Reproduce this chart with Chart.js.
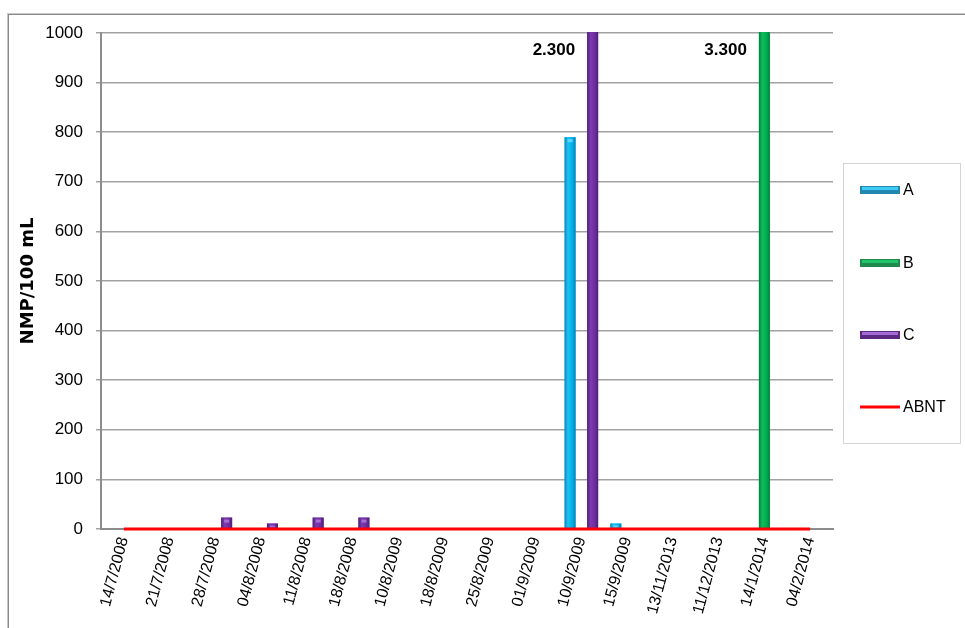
<!DOCTYPE html>
<html>
<head>
<meta charset="utf-8">
<script src="https://cdn.jsdelivr.net/npm/chart.js@4.4.1/dist/chart.umd.min.js"></script>
<style>
  html, body { margin: 0; padding: 0; background: #ffffff; }
  #wrap { position: relative; width: 965px; height: 628px; }
</style>
</head>
<body>
<div id="wrap"><canvas id="c" width="965" height="628"></canvas></div>
<script>
// Sampling dates (category axis)
const categories = ['14/7/2008', '21/7/2008', '28/7/2008', '04/8/2008', '11/8/2008', '18/8/2008',
  '10/8/2009', '18/8/2009', '25/8/2009', '01/9/2009', '10/9/2009', '15/9/2009',
  '13/11/2013', '11/12/2013', '14/1/2014', '04/2/2014'];

// NMP/100 mL per sampling point
const seriesA = [null, null, null, null, null, null, null, null, null, null, 790, 11, null, null, null, null];
const seriesB = [null, null, null, null, null, null, null, null, null, null, null, null, null, null, 3300, null];
const seriesC = [null, null, 23, 11, 23, 23, null, null, null, null, 2300, null, null, null, null, null];
// ABNT reference line
const abnt = [0, 0, 0, 0, 0, 0, 0, 0, 0, 0, 0, 0, 0, 0, 0, 0];

const yMin = 0;
const yMax = 1000;
const yStep = 100;

const palette = {
  A: { base: '#00B0F0', stops: ['#0A86B6', '#22C0F2', '#00AEEA', '#0A84B2'], cap: '#5FD6FA', legTop: '#3FCBF6', legBot: '#2288B0' },
  B: { base: '#00B050', stops: ['#007D39', '#12BC5E', '#00AE4E', '#007E3A'], cap: '#5EDB92', legTop: '#22C46A', legBot: '#1E8A4E' },
  C: { base: '#7030A0', stops: ['#4C2074', '#7C3AB0', '#6E2E9E', '#4D2076'], cap: '#A46ED2', legTop: '#A36BD6', legBot: '#5B2A80' }
};
const keys = ['A', 'B', 'C'];

function fmtThousands(v) {
  return String(Math.round(v)).replace(/\B(?=(\d{3})+(?!\d))/g, '.');
}

// Page frame, background
const framePlugin = {
  id: 'frame',
  beforeDraw(chart) {
    const ctx = chart.ctx;
    ctx.save();
    ctx.fillStyle = '#ffffff';
    ctx.fillRect(0, 0, chart.width, chart.height);
    ctx.fillStyle = '#c8c8c8';
    ctx.fillRect(7, 13, chart.width - 7, 1);
    ctx.fillRect(7, 13, 1, chart.height - 13);
    ctx.fillStyle = '#8a8a8a';
    ctx.fillRect(8, 14, chart.width - 8, 1);
    ctx.fillRect(8, 14, 1, chart.height - 14);
    ctx.restore();
  }
};

// Shaded bar faces
const barShadePlugin = {
  id: 'barShade',
  afterDatasetDraw(chart, args) {
    const meta = args.meta;
    if (meta.type !== 'bar') return;
    const key = keys[meta.index];
    const pal = palette[key];
    const area = chart.chartArea;
    const ctx = chart.ctx;
    ctx.save();
    ctx.beginPath();
    ctx.rect(area.left, area.top - 1, area.right - area.left, area.bottom - area.top + 2);
    ctx.clip();
    meta.data.forEach((el) => {
      const p = el.getProps(['x', 'y', 'base', 'width'], true);
      if (p.y == null || isNaN(p.y) || p.base === p.y) return;
      const l = p.x - p.width / 2, r = p.x + p.width / 2;
      const top = Math.min(p.y, p.base), bot = Math.max(p.y, p.base);
      const g = ctx.createLinearGradient(l, 0, r, 0);
      g.addColorStop(0, pal.stops[0]);
      g.addColorStop(0.3, pal.stops[1]);
      g.addColorStop(0.7, pal.stops[2]);
      g.addColorStop(1, pal.stops[3]);
      ctx.fillStyle = g;
      ctx.fillRect(l, top, r - l, bot - top);
      if (top > area.top + 1) {
        ctx.fillStyle = pal.cap;
        ctx.fillRect(p.x - 2.5, top + 2, 5, Math.min(3, bot - top - 3));
      }
    });
    ctx.restore();
  }
};

// Value labels for bars running past the axis maximum
const overflowLabelPlugin = {
  id: 'overflowLabels',
  afterDatasetsDraw(chart) {
    const ctx = chart.ctx;
    const area = chart.chartArea;
    const yScale = chart.scales.y;
    ctx.save();
    ctx.font = 'bold 17px "Liberation Sans", Arial, sans-serif';
    ctx.fillStyle = '#000000';
    ctx.textAlign = 'right';
    ctx.textBaseline = 'middle';
    chart.data.datasets.forEach((ds, di) => {
      const meta = chart.getDatasetMeta(di);
      if (meta.type !== 'bar') return;
      ds.data.forEach((v, i) => {
        if (v == null || v <= yScale.max) return;
        const p = meta.data[i].getProps(['x', 'width'], true);
        ctx.fillText(fmtThousands(v), p.x - p.width / 2 - 12, area.top + 17);
      });
    });
    ctx.restore();
  }
};

// Boxed legend on the right
const boxLegendPlugin = {
  id: 'boxLegend',
  afterDraw(chart) {
    const ctx = chart.ctx;
    ctx.save();
    ctx.strokeStyle = '#d4d4d4';
    ctx.lineWidth = 1;
    ctx.strokeRect(843.5, 163.5, 117, 280);
    ctx.font = '16px "Liberation Sans", Arial, sans-serif';
    ctx.textBaseline = 'middle';
    ctx.textAlign = 'left';
    const rows = [190, 263, 335, 407];
    chart.data.datasets.forEach((ds, di) => {
      const y = rows[di];
      if (ds.type === 'line') {
        ctx.fillStyle = ds.borderColor;
        ctx.fillRect(860, y - 1.5, 40, 3);
      } else {
        const pal = palette[keys[di]];
        ctx.fillStyle = pal.legBot;
        ctx.fillRect(860, y - 4, 40, 8);
        ctx.fillStyle = pal.legTop;
        ctx.fillRect(862, y - 3, 36, 3);
      }
      ctx.fillStyle = '#000000';
      ctx.fillText(ds.label, 903, y + 1);
    });
    ctx.restore();
  }
};

const barCommon = { categoryPercentage: 0.74, barPercentage: 0.97, borderWidth: 0, order: 1 };

new Chart(document.getElementById('c'), {
  data: {
    labels: categories,
    datasets: [
      Object.assign({ type: 'bar', label: 'A', data: seriesA, backgroundColor: palette.A.base }, barCommon),
      Object.assign({ type: 'bar', label: 'B', data: seriesB, backgroundColor: palette.B.base }, barCommon),
      Object.assign({ type: 'bar', label: 'C', data: seriesC, backgroundColor: palette.C.base }, barCommon),
      { type: 'line', label: 'ABNT', data: abnt, borderColor: '#FF0000', borderWidth: 3,
        pointRadius: 0, fill: false, order: 0, clip: false }
    ]
  },
  options: {
    responsive: false,
    animation: false,
    layout: { padding: { left: 0, right: 132, top: 33, bottom: 0 } },
    plugins: {
      legend: { display: false },
      tooltip: { enabled: false }
    },
    scales: {
      x: {
        type: 'category',
        offset: true,
        grid: { display: true, drawOnChartArea: false, drawTicks: false },
        border: { display: true, color: '#8c8c8c', width: 2 },
        ticks: {
          autoSkip: false, minRotation: 75, maxRotation: 75, padding: 6,
          color: '#000000', font: { family: '"Liberation Sans", Arial, sans-serif', size: 16 }
        },
        afterFit(s) { s.height = 99; }
      },
      y: {
        min: yMin, max: yMax,
        grid: { color: '#a2a2a2', lineWidth: 1.5, tickLength: 5, drawTicks: true },
        border: { display: true, color: '#8c8c8c', width: 2 },
        ticks: {
          stepSize: yStep, padding: 13, color: '#000000',
          font: { family: '"Liberation Sans", Arial, sans-serif', size: 17 },
          callback: (v) => String(v)
        },
        title: {
          display: true, text: 'NMP/100 mL', color: '#000000',
          font: { family: '"DejaVu Sans", Verdana, sans-serif', size: 18, weight: 'bold' },
          padding: { top: 18, bottom: 0 }
        },
        afterFit(s) { s.width = 101; }
      }
    }
  },
  plugins: [framePlugin, barShadePlugin, overflowLabelPlugin, boxLegendPlugin]
});
</script>
</body>
</html>
